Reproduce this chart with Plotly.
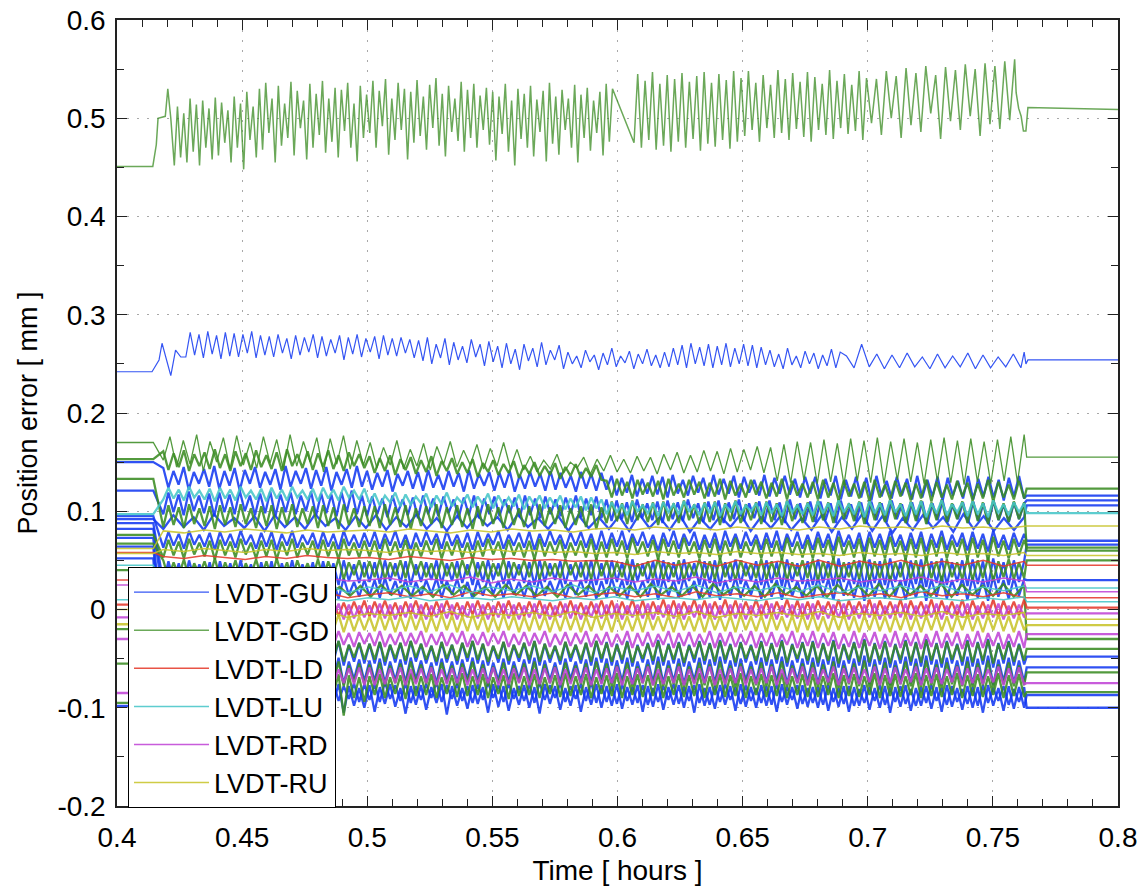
import numpy as np
import plotly.graph_objects as go

# ------------------------------------------------------------------
# Tick labels / names
# ------------------------------------------------------------------
X_TICKS = [0.4, 0.45, 0.5, 0.55, 0.6, 0.65, 0.7, 0.75, 0.8]
X_TICK_LABELS = ["0.4", "0.45", "0.5", "0.55", "0.6", "0.65", "0.7", "0.75", "0.8"]
Y_TICKS = [-0.2, -0.1, 0, 0.1, 0.2, 0.3, 0.4, 0.5, 0.6]
Y_TICK_LABELS = ["-0.2", "-0.1", "0", "0.1", "0.2", "0.3", "0.4", "0.5", "0.6"]
SERIES_NAMES = ["LVDT-GU", "LVDT-GD", "LVDT-LD", "LVDT-LU", "LVDT-RD", "LVDT-RU"]

# time marks (hours) of the test phases
T_START, T_PRE_END, T_OSC_START, T_OSC_END, T_POST_START, T_END = 0.400, 0.4145, 0.4185, 0.7625, 0.7635, 0.800

# ------------------------------------------------------------------
# Values, in micrometres (1e-3 mm)
# ------------------------------------------------------------------
# --- top GD sensor (around 0.5 mm)
GD_TOP_LEAD_T = [0.400, 0.4143, 0.4157, 0.4164, 0.4193, 0.4203, 0.4215]
GD_TOP_LEAD = [451, 451, 473, 500, 502, 530, 500]
GD_TOP_SPANS = [(0.4229, 0.598), (0.6066, 0.6995), (0.7015, 0.7587)]
GD_TOP_A = [452,512,460,505,455,520,466,514,452,518,470,510,458,521,462,516,475,508,455,522,470,515,
            448,527,478,512,460,530,468,536,485,520,455,533,472,515,480,537,462,528,490,518,458,535,470,525,483,538,465,520,476,531,460,529,487,536,470,515,456,533,480,524,
            485,538,470,528,492,540,463,520,478,536,488,530,458,527,475,539,482,522,468,534,490,541,472,525,461,533,486,520,477,537,466,529,480,535,470,523,488,531,473,527,
            457,522,484,535,466,518,452,530,479,525,470,533,461,519,486,528,456,536,474,522,463,529,488,520,470,534,455,524,480,531,467,518,485,527,462,535,476,530]
GD_TOP_B = [475,545,470,538,478,547,468,535,472,544,466,540,476,546,470,537,479,543,467,547,474,536,471,545,478,539,469,548,476,541,
            482,548,488,536,476,544,490,534,480,549,485,540,478,546,489,537,481,547,476,542,488,535,483,549,479,538,490,545,484,534,487,548,478,541]
GD_TOP_C = [495,540,483,548,500,543,480,551,493,546,486,553,505,544,479,552,497,549,488,555,502,550,482,556,494,553,489,558,498,560]
GD_TOP_TAIL_T = [0.7593, 0.7603, 0.7613, 0.7622, 0.7632, 0.7640, 0.800]
GD_TOP_TAIL = [526, 510, 502, 487, 487, 511, 509]

# --- top GU sensor (around 0.26 mm)
GU_TOP_LEAD_T = [0.400, 0.414, 0.4168, 0.418, 0.4215, 0.4234, 0.4255]
GU_TOP_LEAD = [242, 242, 254, 271, 238, 264, 257]
GU_TOP_SPANS = [(0.4275, 0.689), (0.6915, 0.7612)]
GU_TOP_A = [257,282,259,280,256,283,260,279,255,282,258,281,257,280,261,283,256,279,259,
            278,257,280,261,276,255,279,259,277,262,280,256,278,258,275,261,279,254,277,260,280,257,276,262,278,255,279,259,276,258,277,261,275,256,
            274,253,277,250,270,256,276,249,272,254,268,251,275,257,270,248,273,
            252,268,246,271,250,265,244,270,253,266,247,272,249,264,254,269,245,
            262,250,258,246,264,252,259,244,261,249,266,247,258,251,263,245,260,250,265,248,259,246,262,
            247,266,249,269,246,271,250,267,248,270,246,268,249,271,247,266,250,270,248,269,246,267,249,
            264,247,260,245,266,249,258,246,263,250,261,245,259,248,265,246,262]
GU_TOP_B = [258,246,270,247,260,245,259,246,261,247,257,245,260,246,258,247,261,245,259,246,257,247,260,246]
GU_TOP_TAIL_T = [0.7625, 0.7632, 0.764, 0.800]
GU_TOP_TAIL = [262, 250, 254, 254]

# --- GU band sensors
GU_PRE = [150, 121, 95, 88, 82, 73, 64, 52, -98, 92]
GU_POST = [116, 111, 70, 66, 30, -48, -59, -87, -100, 106]
GU_1 = [144,124,141,127,145,122,140,128,143,125,146,123,141,126,144,121,142,128,145,124,140,127,143,122,146,125,141,128,144,123,142,126,145,121,140,127,143,124,146,125,
        141,122,139,125,142,120,138,126,141,123,140,121,142,124,137,122,141,125,139,120,142,123,138,126,140,121,139,124,141,120,137,123,140,125,138,121,141,122,139,124,136,120,140,123,138,121,139,122,
        136,116,134,119,137,115,133,118,136,117,135,114,137,118,132,116,136,119,134,115,137,117,133,118,136,114,135,119,132,116,137,115,134,118,136,117,133,114,135,118,
        135,113,133,116,136,112,132,115,135,114,134,111,136,115,131,113,135,116,133,112,136,114,132,115,135,111,134,116,131,113,136,112,133,115,135,114,132,111,134,115,136,113]
GU_2 = [97,119,99,117,96,120,100,116,98,118,95,119,99,117,97,121,100,116,96,118,98,120,95,117,99,119,97,116,100,120,96,118,98,117,95,119,99,121,97,116,
        95,115,97,113,94,116,98,112,96,114,93,116,97,113,95,115,98,112,94,114,96,116,93,113,97,115,95,112,98,114,94,116,96,113,93,115,97,112,95,114,98,116,94,113,96,115,93,112,
        90,111,92,109,89,112,93,108,91,110,88,111,92,109,90,112,93,108,89,110,91,111,88,109,92,112,90,108,93,110,89,111,91,109,88,112,92,108,90,110,
        89,110,91,108,88,111,92,107,90,109,87,110,91,108,89,111,92,107,88,109,90,110,87,108,91,111,89,107,92,109,88,110,90,108,87,111,91,107,89,109,92,108]
GU_3 = [63,79,65,77,62,80,66,76,64,78,61,79,65,77,63,80,66,76,62,78,64,79,61,77,65,80,63,76,66,78,62,79,64,77,61,80,65,76,63,78,
        64,79,62,77,65,80,63,76,61,78,64,79,66,77,62,80,65,76,63,78,61,79,64,77,66,80,62,76,65,78,63,79,61,77,64,80,66,76,62,78,65,79,63,77,61,80,
        62,78,64,80,61,77,65,79,63,76,60,78,64,80,62,77,65,79,61,76,63,78,60,80,64,77,62,79,65,76,61,78,63,80,60,77,64,79,62,76,
        61,79,63,77,60,80,64,76,62,78,59,79,63,77,61,80,64,76,60,78,62,79,59,77,63,80,61,76,64,78,60,79,62,77,59,80,63,76,61,78,64,77]
GU_4 = [27,49,29,47,26,50,30,46,28,48,25,49,29,47,27,50,30,46,26,48,28,49,25,47,29,50,27,46,30,48,26,49,28,47,25,50,29,46,27,48,
        28,48,26,50,29,47,27,49,25,46,28,48,30,50,26,47,29,49,27,46,25,48,28,50,30,47,26,49,29,46,27,48,25,50,28,47,30,49,26,46,29,48,27,50,25,47,
        26,50,28,48,25,51,29,47,27,49,24,50,28,48,26,51,29,47,25,49,27,50,24,48,28,51,26,47,29,49,25,50,27,48,24,51,28,47,26,49,
        25,51,27,49,24,52,28,48,26,50,23,51,27,49,25,52,28,48,24,50,26,51,23,49,27,52,25,48,28,50,24,51,26,49,23,52,27,48,25,50,28,49]
GU_5 = [13,31,15,29,12,32,16,28,14,30,11,31,15,29,13,32,16,28,12,30,14,31,11,29,15,32,13,28,16,30,12,31,14,29,11,32,15,28,13,30,
        14,30,12,32,15,29,13,31,11,28,14,30,16,32,12,29,15,31,13,28,11,30,14,32,16,29,12,31,15,28,13,30,11,32,14,29,16,31,12,28,15,30,13,32,11,29,
        12,32,14,30,11,33,15,29,13,31,10,32,14,30,12,33,15,29,11,31,13,32,10,30,14,33,12,29,15,31,11,32,13,30,10,33,14,29,12,31,
        11,33,13,31,10,34,14,30,12,32,9,33,13,31,11,34,14,30,10,32,12,33,9,31,13,34,11,30,14,32,10,33,12,31,9,34,13,30,11,32,14,31]
GU_6 = [-34,-56,-36,-54,-33,-57,-37,-53,-35,-55,-32,-56,-36,-54,-34,-57,-37,-53,-33,-55,-35,-56,-32,-54,-36,-57,-34,-53,-37,-55,-33,-56,-35,-54,-32,-57,-36,-53,-34,-55,
        -35,-55,-33,-57,-36,-54,-34,-56,-32,-53,-35,-55,-37,-57,-33,-54,-36,-56,-34,-53,-32,-55,-35,-57,-37,-54,-33,-56,-36,-53,-34,-55,-32,-57,-35,-54,-37,-56,-33,-53,-36,-55,-34,-57,-32,-54,
        -33,-57,-35,-55,-32,-58,-36,-54,-34,-56,-31,-57,-35,-55,-33,-58,-36,-54,-32,-56,-34,-57,-31,-55,-35,-58,-33,-54,-36,-56,-32,-57,-34,-55,-31,-58,-35,-54,-33,-56,
        -32,-58,-34,-56,-31,-59,-35,-55,-33,-57,-30,-58,-34,-56,-32,-59,-35,-55,-31,-57,-33,-58,-30,-56,-34,-59,-32,-55,-35,-57,-31,-58,-33,-56,-30,-59,-34,-55,-32,-57,-35,-56]
GU_7 = [-51,-74,-53,-72,-50,-76,-54,-71,-52,-73,-49,-75,-53,-72,-51,-76,-54,-71,-50,-73,-52,-74,-49,-72,-53,-76,-51,-71,-54,-73,-50,-74,-52,-72,-49,-76,-53,-71,-51,-73,
        -52,-73,-50,-75,-53,-72,-51,-74,-49,-71,-52,-73,-54,-75,-50,-72,-53,-74,-51,-71,-49,-73,-52,-75,-54,-72,-50,-74,-53,-71,-51,-73,-49,-75,-52,-72,-54,-74,-50,-71,-53,-73,-51,-75,-49,-72,
        -50,-75,-52,-73,-49,-76,-53,-72,-51,-74,-48,-75,-52,-73,-50,-76,-53,-72,-49,-74,-51,-75,-48,-73,-52,-76,-50,-72,-53,-74,-49,-75,-51,-73,-48,-76,-52,-72,-50,-74,
        -49,-76,-51,-74,-48,-77,-52,-73,-50,-75,-47,-76,-51,-74,-49,-77,-52,-73,-48,-75,-50,-76,-47,-74,-51,-77,-49,-73,-52,-75,-48,-76,-50,-74,-47,-77,-51,-73,-49,-75,-52,-74]
GU_8 = [-79,-98,-77,-105,-80,-95,-78,-99,-76,-107,-79,-96,-77,-100,-80,-104,-78,-95,-79,-98,-77,-103,-80,-96,-76,-99,-79,-106,-78,-97,-77,-101,-80,-95,-76,-105,-78,-98,-80,-100,
        -77,-104,-79,-96,-76,-99,-80,-106,-78,-97,-77,-102,-79,-95,-76,-107,-78,-98,-80,-101,-77,-96,-79,-105,-76,-99,-78,-103,-80,-97,-77,-100,-79,-106,-76,-96,-78,-102,-80,-98,-77,-104,-79,-97,-76,-100,
        -78,-98,-76,-101,-79,-97,-77,-104,-78,-99,-76,-102,-79,-97,-77,-100,-78,-105,-76,-98,-79,-101,-77,-97,-78,-103,-76,-99,-79,-100,-77,-98,-78,-104,-76,-97,-79,-101,-77,-99,
        -79,-100,-77,-103,-80,-99,-78,-104,-79,-98,-77,-102,-80,-100,-78,-105,-79,-99,-77,-103,-80,-98,-78,-101,-79,-104,-77,-99,-80,-102,-78,-100,-79,-105,-77,-98,-80,-103,-78,-101,-79,-100]
GU_9 = [-91,-75,-93,-77,-90,-74,-92,-78,-94,-76,-91,-75,-93,-77,-90,-74,-92,-78,-94,-76,-90,-77,-92,-74,-93,-78,-91,-75,-94,-76,-92,-77,-90,-74,-93,-78,-91,-75,-94,-76,
        -92,-76,-94,-74,-91,-77,-93,-75,-95,-78,-92,-76,-90,-74,-94,-77,-91,-75,-93,-78,-95,-76,-92,-74,-90,-77,-94,-75,-91,-78,-93,-76,-95,-74,-92,-77,-90,-75,-94,-78,-91,-76,-93,-74,-95,-77,
        -94,-78,-96,-76,-93,-79,-95,-77,-97,-80,-94,-78,-92,-76,-96,-79,-93,-77,-95,-80,-97,-78,-94,-76,-92,-79,-96,-77,-93,-80,-95,-78,-97,-76,-94,-79,-92,-77,-96,-80,
        -95,-79,-97,-77,-94,-80,-96,-78,-98,-81,-95,-79,-93,-77,-97,-80,-94,-78,-96,-81,-98,-79,-95,-77,-93,-80,-97,-78,-94,-81,-96,-79,-98,-77,-95,-80,-93,-78,-97,-81,-94,-79]
GU_10 = [82,96,84,94,81,97,85,93,83,95,80,96,84,94,82,97,85,93,81,95,
         83,96,81,94,84,97,82,93,80,95,83,96,85,94,81,97,84,93,82,95,80,96,83,94,
         82,95,80,97,83,94,81,96,79,93,82,95,84,97,80,94,83,96,81,93,
         81,96,79,94,82,97,80,95,78,93,81,96,83,94,79,97,82,95,80,93,81,94]

# --- GD band sensors
GD_PRE = [170, 153, 133, 76, 67, 40, -20, -55, -95]
GD_POST = [155, 123, 60, 63, 50, -30, -40, -64, -84]
GD_MID = [152,176,145,172,148,178,141,171,150,175,143,177,147,170,144,176,149,173,142,178,146,171,150,175,140,174,148,177,143,172,147,
          170,144,165,147,172,143,163,146,169,142,166,148,171,145,162,147,168,143,164,146,170,144,163,
          142,156,140,152,143,158,139,150,144,155,138,153,141,157,140,
          153,139,156,141,155,138,158,142,160,139,157,140,162,141,161,138,164,140,163,142,166,139,165,
          131,168,129,171,132,170,128,173,130,169,127,174,131,172,129,175,128,171,132,174,130,170,128,173,131,175,129,172,127,174,130,171,128,173,131,176,129,178]
GD_1 = [161,142,159,145,162,141,158,146,160,143,163,144,158,141,161,146,159,142,162,145,157,143,160,141,163,146,158,144,161,142,159,145,162,143,157,141,160,146,158,144,
        156,139,154,141,157,137,153,142,155,138,152,140,156,136,151,141,154,138,150,139,153,135,149,140,152,137,148,139,151,134,147,138,150,136,146,137,149,133,145,136,148,134,144,135,147,132,
        131,114,133,116,130,113,132,117,129,115,131,112,133,116,128,114,132,117,130,113,129,115,133,112,131,116,128,114,132,117,130,113,129,115,133,112,131,116,128,114,
        130,112,132,114,129,111,131,115,128,113,130,110,132,114,127,112,131,115,129,111,128,113,132,110,130,114,127,112,131,115,129,111,128,113,132,110,130,114,127,112,131,113]
GD_2 = [84,106,86,104,83,107,87,103,85,105,82,106,86,104,84,107,87,103,83,105,85,106,82,104,86,107,84,103,87,105,83,106,85,104,82,107,86,103,84,105,
        85,105,83,107,86,104,84,106,82,103,85,105,87,107,83,104,86,106,84,103,82,105,85,107,87,104,83,106,86,103,84,105,82,107,85,104,87,106,83,103,86,105,84,107,82,104,
        88,110,90,108,87,111,91,107,89,109,86,110,90,108,88,111,91,107,87,109,89,110,86,108,90,111,88,107,91,109,87,110,89,108,86,111,90,107,88,109,
        89,111,91,109,88,112,92,108,90,110,87,111,91,109,89,112,92,108,88,110,90,111,87,109,91,112,89,108,92,110,88,111,90,109,87,112,91,108,89,110,92,109]
GD_3 = [53,71,55,69,52,72,56,68,54,70,51,71,55,69,53,72,56,68,52,70,54,71,51,69,55,72,53,68,56,70,52,71,54,69,51,72,55,68,53,70,
        54,70,52,72,55,69,53,71,51,68,54,70,56,72,52,69,55,71,53,68,51,70,54,72,56,69,52,71,55,68,53,70,51,72,54,69,56,71,52,68,55,70,53,72,51,69,
        53,72,55,70,52,73,56,69,54,71,51,72,55,70,53,73,56,69,52,71,54,72,51,70,55,73,53,69,56,71,52,72,54,70,51,73,55,69,53,71,
        52,73,54,71,51,74,55,70,53,72,50,73,54,71,52,74,55,70,51,72,53,73,50,71,54,74,52,70,55,72,51,73,53,71,50,74,54,70,52,72,55,71]
GD_4 = [50,32,48,34,51,31,47,35,49,33,52,32,48,34,50,31,47,35,51,33,49,32,52,34,48,31,50,35,47,33,51,32,49,34,52,31,48,35,50,33,
        49,33,51,31,48,34,50,32,52,35,49,33,47,31,51,34,48,32,50,35,52,33,49,31,47,34,51,32,48,35,50,33,52,31,49,34,47,32,51,35,48,33,50,31,52,34,
        50,31,48,33,51,30,47,34,49,32,52,31,48,33,50,30,47,34,51,32,49,31,52,33,48,30,50,34,47,32,51,31,49,33,52,30,48,34,50,32,
        51,30,49,32,52,29,48,33,50,31,53,30,49,32,51,29,48,33,52,31,50,30,53,32,49,29,51,33,48,31,52,30,50,32,53,29,49,33,51,31,48,32]
GD_5 = [14,24,13,25,15,23,14,24,13,25,15,23,14,24,13,25,15,23,14,24,
        13,25,15,24,14,23,13,25,15,24,14,23,13,25,15,24,14,23,13,25,15,24,14,23,
        14,24,13,26,15,23,14,24,13,26,15,23,14,24,13,26,15,23,14,24,
        13,25,15,24,14,26,13,25,15,24,14,26,13,25,15,24,14,26,13,25]
GD_6 = [-34,-52,-36,-50,-33,-53,-37,-49,-35,-51,-32,-52,-36,-50,-34,-53,-37,-49,-33,-51,-35,-52,-32,-50,-36,-53,-34,-49,-37,-51,-33,-52,-35,-50,-32,-53,-36,-49,-34,-51,
        -35,-51,-33,-53,-36,-50,-34,-52,-32,-49,-35,-51,-37,-53,-33,-50,-36,-52,-34,-49,-32,-51,-35,-53,-37,-50,-33,-52,-36,-49,-34,-51,-32,-53,-35,-50,-37,-52,-33,-49,-36,-51,-34,-53,-32,-50,
        -34,-53,-36,-51,-33,-54,-37,-50,-35,-52,-32,-53,-36,-51,-34,-54,-37,-50,-33,-52,-35,-53,-32,-51,-36,-54,-34,-50,-37,-52,-33,-53,-35,-51,-32,-54,-36,-50,-34,-52,
        -33,-54,-35,-52,-32,-55,-36,-51,-34,-53,-31,-54,-35,-52,-33,-55,-36,-51,-32,-53,-34,-54,-31,-52,-35,-55,-33,-51,-36,-53,-32,-54,-34,-52,-31,-55,-35,-51,-33,-53,-36,-52]
GD_7 = [-55,-77,-57,-75,-54,-78,-58,-74,-56,-76,-53,-77,-57,-75,-55,-78,-58,-74,-54,-76,-56,-77,-53,-75,-57,-78,-55,-74,-58,-76,-54,-77,-56,-75,-53,-78,-57,-74,-55,-76,
        -56,-76,-54,-78,-57,-75,-55,-77,-53,-74,-56,-76,-58,-78,-54,-75,-57,-77,-55,-74,-53,-76,-56,-78,-58,-75,-54,-77,-57,-74,-55,-76,-53,-78,-56,-75,-58,-77,-54,-74,-57,-76,-55,-78,-53,-75,
        -55,-78,-57,-76,-54,-79,-58,-75,-56,-77,-53,-78,-57,-76,-55,-79,-58,-75,-54,-77,-56,-78,-53,-76,-57,-79,-55,-75,-58,-77,-54,-78,-56,-76,-53,-79,-57,-75,-55,-77,
        -54,-79,-56,-77,-53,-80,-57,-76,-55,-78,-52,-79,-56,-77,-54,-80,-57,-76,-53,-78,-55,-79,-52,-77,-56,-80,-54,-76,-57,-78,-53,-79,-55,-77,-52,-80,-56,-76,-54,-78,-57,-77]
GD_8 = [-67,-90,-65,-107,-68,-86,-66,-111,-69,-88,-65,-104,-67,-87,-68,-109,-66,-89,-67,-96,-65,-88,-68,-105,-66,-87,-69,-110,-67,-89,-65,-100,-68,-86,-66,-108,-67,-90,-69,-94,
        -68,-87,-66,-90,-69,-86,-67,-91,-65,-88,-68,-87,-66,-90,-69,-86,-67,-89,-65,-88,-68,-87,-66,-90,-69,-86,-67,-91,-65,-88,-68,-87,-66,-90,-69,-86,-67,-89,-65,-88,-68,-87,-66,-90,-69,-86,
        -67,-88,-65,-90,-68,-87,-66,-89,-67,-88,-65,-90,-68,-87,-66,-89,-67,-88,-65,-90,-68,-87,-66,-89,-67,-88,-65,-90,-68,-87,-66,-89,-67,-88,-65,-90,-68,-87,-66,-89,
        -66,-89,-68,-87,-65,-90,-67,-88,-66,-89,-68,-87,-65,-90,-67,-88,-66,-89,-68,-87,-65,-90,-67,-88,-66,-89,-68,-87,-65,-90,-67,-88,-66,-89,-68,-87,-65,-90,-67,-88,-66,-89]

# --- LD sensors
LD_PRE = [58, 5, 30]
LD_POST = [45, 2, 12]
LD_1 = [54,52,55,53,51,54,52,55,53,52,53,51,54,52,50,53,51,52,50,51,49,50,
        49,44,50,45,49,44,50,45,49,44,50,44,49,45,50,44,49,45,50,44,49]
LD_2 = [-6,8,-5,9,-7,7,-6,8,-5,9,-7,7,-6,8,-5,9,-7,7,-6,8,-5,9,-7,7,-6,8,-5,9,-7,7,-6,8,-5,9,-7,7,-6,8,-5,9,
        -7,8,-5,9,-6,7,-7,8,-5,9,-6,7,-7,8,-5,9,-6,7,-7,8,-5,9,-6,7,-7,8,-5,9,-6,7,-7,8,-5,9,-6,7,-7,8,-5,9,-6,7,-7,8,-5,9,
        -6,9,-7,8,-5,10,-6,9,-7,8,-5,10,-6,9,-7,8,-5,10,-6,9,-7,8,-5,10,-6,9,-7,8,-5,10,-6,9,-7,8,-5,10,-6,9,-7,8,
        -7,9,-5,8,-6,10,-7,9,-5,8,-6,10,-7,9,-5,8,-6,10,-7,9,-5,8,-6,10,-7,9,-5,8,-6,10,-7,9,-5,8,-6,10,-7,9,-5,8,-6,10]
LD_3 = [17,13,16,12,18,14,16,13,17,12,15,17,13,16,12,18,14,16,13,17,12,15,
        17,13,16,12,18,14,16,13,17,12,15,17,13,16,12,18,14,16,13,17,12]

# --- LU sensors
LU_PRE = [10, 97, 45]
LU_POST = [8, 98, 22]
LU_2 = [12,10,13,9,11,12,10,13,11,9,12,10,13,9,11,12,10,13,11,9,12,10,
        13,9,11,12,10,13,11,9,12,10,13,9,11,12,10,13,11,9,12,10,13]
LU_1 = [112,124,113,122,111,125,114,121,112,123,110,124,113,122,111,125,114,121,112,123,110,124,113,122,111,125,114,121,112,123,110,124,113,122,111,125,114,121,112,123,
        108,118,106,116,109,119,105,117,107,115,108,118,104,116,107,119,105,114,108,117,104,115,107,118,103,116,106,114,105,117,102,115,106,116,103,114,105,116,102,113,104,115,101,114,103,112,
        97,109,99,107,96,110,100,106,98,108,95,109,99,107,97,110,100,106,96,108,98,109,95,107,99,110,97,106,100,108,96,109,98,107,95,110,99,106,97,108,
        96,110,98,108,95,111,99,107,97,109,94,110,98,108,96,111,99,107,95,109,97,110,94,108,98,111,96,107,99,109,95,110,97,108,94,111,98,107,96,109,99,108]
LU_3 = [24,18,25,17,23,19,24,18,25,17,23,19,24,18,25,17,23,19,24,18,25,17,
        23,19,24,18,25,17,23,19,24,18,25,17,23,19,24,18,25,17,23,19,24]

# --- RD sensors
RD_PRE = [25, -30, -8, -85]
RD_POST = [18, -25, -4, -75]
RD_2 = [32,28,31,29,33,27,31,28,32,29,30,32,28,31,29,33,27,31,28,32,29,30,
        32,28,31,29,33,27,31,28,32,29,30,32,28,31,29,33,27,31,28,32,29]
RD_1 = [-23,-37,-24,-36,-22,-38,-25,-35,-23,-37,-22,-36,-24,-38,-23,-35,-25,-37,-22,-36,-24,-38,-23,-35,-25,-37,-22,-36,-24,-38,-23,-35,-25,-37,-22,-36,-24,-38,-23,-35,
        -24,-37,-22,-38,-25,-36,-23,-37,-24,-35,-22,-38,-25,-36,-23,-37,-24,-35,-22,-38,-25,-36,-23,-37,-24,-35,-22,-38,-25,-36,-23,-37,-24,-35,-22,-38,-25,-36,-23,-37,-24,-35,-22,-38,-25,-36,
        -23,-38,-25,-36,-22,-39,-24,-37,-23,-38,-25,-36,-22,-39,-24,-37,-23,-38,-25,-36,-22,-39,-24,-37,-23,-38,-25,-36,-22,-39,-24,-37,-23,-38,-25,-36,-22,-39,-24,-37,
        -22,-39,-24,-37,-23,-40,-25,-38,-22,-39,-24,-37,-23,-40,-25,-38,-22,-39,-24,-37,-23,-40,-25,-38,-22,-39,-24,-37,-23,-40,-25,-38,-22,-39,-24,-37,-23,-40,-25,-38,-22,-39]
RD_3 = [5,-9,4,-8,6,-10,5,-9,4,-8,6,-10,5,-9,4,-8,6,-10,5,-9,4,-8,6,-10,5,-9,4,-8,6,-10,5,-9,4,-8,6,-10,5,-9,4,-8,
        4,-8,6,-9,5,-10,4,-8,6,-9,5,-10,4,-8,6,-9,5,-10,4,-8,6,-9,5,-10,4,-8,6,-9,5,-10,4,-8,6,-9,5,-10,4,-8,6,-9,5,-10,4,-8,6,-9,
        5,-9,6,-10,4,-8,5,-9,6,-10,4,-8,5,-9,6,-10,4,-8,5,-9,6,-10,4,-8,5,-9,6,-10,4,-8,5,-9,6,-10,4,-8,5,-9,6,-10,
        6,-10,4,-9,5,-8,6,-10,4,-9,5,-8,6,-10,4,-9,5,-8,6,-10,4,-9,5,-8,6,-10,4,-9,5,-8,6,-10,4,-9,5,-8,6,-10,4,-9,5,-8]
RD_4 = [-60,-76,-59,-77,-61,-75,-60,-76,-59,-77,-61,-75,-60,-76,-59,-77,-61,-75,-60,-76,-59,-77,-61,-75,-60,-76,-59,-77,-61,-75,-60,-76,-59,-77,-61,-75,-60,-76,-59,-77,
        -59,-77,-61,-76,-60,-75,-59,-77,-61,-76,-60,-75,-59,-77,-61,-76,-60,-75,-59,-77,-61,-76,-60,-75,-59,-77,-61,-76,-60,-75,-59,-77,-61,-76,-60,-75,-59,-77,-61,-76,-60,-75,-59,-77,-61,-76,
        -60,-75,-58,-77,-61,-76,-60,-75,-58,-77,-61,-76,-60,-75,-58,-77,-61,-76,-60,-75,-58,-77,-61,-76,-60,-75,-58,-77,-61,-76,-60,-75,-58,-77,-61,-76,-60,-75,-58,-77,
        -59,-76,-61,-74,-58,-77,-60,-75,-59,-76,-61,-74,-58,-77,-60,-75,-59,-76,-61,-74,-58,-77,-60,-75,-59,-76,-61,-74,-58,-77,-60,-75,-59,-76,-61,-74,-58,-77,-60,-75,-59,-76]

# --- RU sensors
RU_PRE = [62, 57, -15, 0]
RU_POST = [85, 55, -16, -10]
RU_1 = [80,78,81,79,82,80,78,81,79,80,81,79,82,80,78,81,79,82,80,81,79,82,
        83,81,84,82,83,81,84,82,83,81,84,82,85,83,84,82,85,83,84,82,85]
RU_2 = [61,59,62,60,58,61,59,62,60,61,60,58,61,59,60,58,61,59,60,58,59,57,
        58,56,59,57,58,56,59,57,58,56,57,55,58,56,57,55,58,56,57,55,58]
RU_3 = [-6,-22,-7,-21,-5,-23,-6,-22,-7,-21,-5,-23,-6,-22,-7,-21,-5,-23,-6,-22,-7,-21,-5,-23,-6,-22,-7,-21,-5,-23,-6,-22,-7,-21,-5,-23,-6,-22,-7,-21,
        -7,-22,-5,-21,-6,-23,-7,-22,-5,-21,-6,-23,-7,-22,-5,-21,-6,-23,-7,-22,-5,-21,-6,-23,-7,-22,-5,-21,-6,-23,-7,-22,-5,-21,-6,-23,-7,-22,-5,-21,-6,-23,-7,-22,-5,-21,
        -6,-23,-5,-21,-7,-22,-6,-23,-5,-21,-7,-22,-6,-23,-5,-21,-7,-22,-6,-23,-5,-21,-7,-22,-6,-23,-5,-21,-7,-22,-6,-23,-5,-21,-7,-22,-6,-23,-5,-21,
        -5,-22,-7,-23,-6,-21,-5,-22,-7,-23,-6,-21,-5,-22,-7,-23,-6,-21,-5,-22,-7,-23,-6,-21,-5,-22,-7,-23,-6,-21,-5,-22,-7,-23,-6,-21,-5,-22,-7,-23,-6,-21]
RU_4 = [-3,-7,-2,-8,-4,-6,-3,-7,-2,-8,-4,-6,-3,-7,-2,-8,-4,-6,-3,-7,-2,-8,
        -4,-6,-3,-7,-2,-8,-4,-6,-3,-7,-2,-8,-4,-6,-3,-7,-2,-8,-4,-6,-3]

# ------------------------------------------------------------------
# Styles
# ------------------------------------------------------------------
COLORS = {
    "LVDT-GU": "#1238f2",
    "LVDT-GD": "#3a8c22",
    "LVDT-LD": "#e5392b",
    "LVDT-LU": "#46c6c8",
    "LVDT-RD": "#c044d6",
    "LVDT-RU": "#c8c42a",
}
FONT = "Liberation Sans, Arial, Helvetica, sans-serif"
BAND_WIDTH = 2.3
WAVY_WIDTH = 1.5


def band_xy(pre, osc, post):
    t = np.concatenate([[T_START, T_PRE_END],
                        np.linspace(T_OSC_START, T_OSC_END, len(osc)),
                        [T_POST_START, T_END]])
    v = np.array([pre, pre] + list(osc) + [post, post], dtype=float) / 1000.0
    return t, v


def segmented_xy(lead_t, lead_v, segments, spans, tail_t, tail_v):
    ts, vs = [np.array(lead_t)], [np.array(lead_v, dtype=float)]
    for seg, (a, b) in zip(segments, spans):
        ts.append(np.linspace(a, b, len(seg)))
        vs.append(np.array(seg, dtype=float))
    ts.append(np.array(tail_t))
    vs.append(np.array(tail_v, dtype=float))
    return np.concatenate(ts), np.concatenate(vs) / 1000.0


fig = go.Figure()
shown = set()


def add_line(name, t, v, width=BAND_WIDTH, opacity=0.87):
    fig.add_trace(go.Scatter(
        x=t, y=v, mode="lines", name=name, legendgroup=name,
        showlegend=name not in shown,
        line=dict(color=COLORS[name], width=width),
        opacity=opacity, hoverinfo="skip",
    ))
    shown.add(name)


def band_width(osc):
    # short (coarsely sampled) records are the slowly drifting channels
    return WAVY_WIDTH if len(osc) < 60 else BAND_WIDTH


# GU
t, v = segmented_xy(GU_TOP_LEAD_T, GU_TOP_LEAD, [GU_TOP_A, GU_TOP_B], GU_TOP_SPANS, GU_TOP_TAIL_T, GU_TOP_TAIL)
add_line("LVDT-GU", t, v, width=1.2, opacity=0.85)
for osc, pre, post in zip([GU_1, GU_2, GU_3, GU_4, GU_5, GU_6, GU_7, GU_8, GU_9, GU_10], GU_PRE, GU_POST):
    add_line("LVDT-GU", *band_xy(pre, osc, post), width=band_width(osc))

# GD
t, v = segmented_xy(GD_TOP_LEAD_T, GD_TOP_LEAD, [GD_TOP_A, GD_TOP_B, GD_TOP_C], GD_TOP_SPANS, GD_TOP_TAIL_T, GD_TOP_TAIL)
add_line("LVDT-GD", t, v, width=1.5, opacity=0.75)
for i, (osc, pre, post) in enumerate(zip([GD_MID, GD_1, GD_2, GD_3, GD_4, GD_5, GD_6, GD_7, GD_8], GD_PRE, GD_POST)):
    add_line("LVDT-GD", *band_xy(pre, osc, post), width=1.3 if i == 0 else band_width(osc))

for name, lines, pres, posts in [
    ("LVDT-LD", [LD_1, LD_2, LD_3], LD_PRE, LD_POST),
    ("LVDT-LU", [LU_2, LU_1, LU_3], LU_PRE, LU_POST),
    ("LVDT-RD", [RD_2, RD_1, RD_3, RD_4], RD_PRE, RD_POST),
    ("LVDT-RU", [RU_1, RU_2, RU_3, RU_4], RU_PRE, RU_POST),
]:
    for osc, pre, post in zip(lines, pres, posts):
        add_line(name, *band_xy(pre, osc, post), width=band_width(osc))

axis_common = dict(
    ticks="inside", ticklen=10, tickwidth=1, tickcolor="#222",
    showline=True, linecolor="#222", linewidth=1.5, mirror="allticks",
    showgrid=True, gridcolor="#a8a8a8", griddash="2px,8px", gridwidth=1,
    zeroline=False, automargin=False,
    tickfont=dict(size=28, color="black", family=FONT),
)

fig.update_xaxes(
    range=[0.4, 0.8], tickmode="array", tickvals=X_TICKS, ticktext=X_TICK_LABELS,
    minor=dict(tickmode="linear", tick0=0.4, dtick=0.01, ticks="inside", ticklen=7,
               tickcolor="#222", showgrid=False),
    title=dict(text="Time [ hours ]", font=dict(size=28, family=FONT), standoff=8),
    ticklabelstandoff=6,
    **axis_common,
)
fig.update_yaxes(
    range=[-0.2, 0.6], tickmode="array", tickvals=Y_TICKS, ticktext=Y_TICK_LABELS,
    minor=dict(tickmode="linear", tick0=-0.2, dtick=0.05, ticks="inside", ticklen=7,
               tickcolor="#222", showgrid=False),
    title=dict(text="Position error [ mm ]", font=dict(size=27, family=FONT), standoff=12),
    ticklabelstandoff=4,
    **axis_common,
)

fig.update_layout(
    width=1145, height=886,
    margin=dict(l=117, r=27, t=20, b=80),
    plot_bgcolor="white", paper_bgcolor="white",
    font=dict(family=FONT, size=28, color="black"),
    hovermode=False,
    legend=dict(
        x=0.011, y=0.304, xanchor="left", yanchor="top",
        bgcolor="white", bordercolor="black", borderwidth=1,
        font=dict(size=27, family=FONT, color="black"),
        tracegroupgap=0, traceorder="normal", itemwidth=75,
    ),
)

fig.write_html(
    "out.html",
    config={"displayModeBar": False},
    post_script="document.body.style.margin='0px';document.body.style.overflow='hidden';",
)
